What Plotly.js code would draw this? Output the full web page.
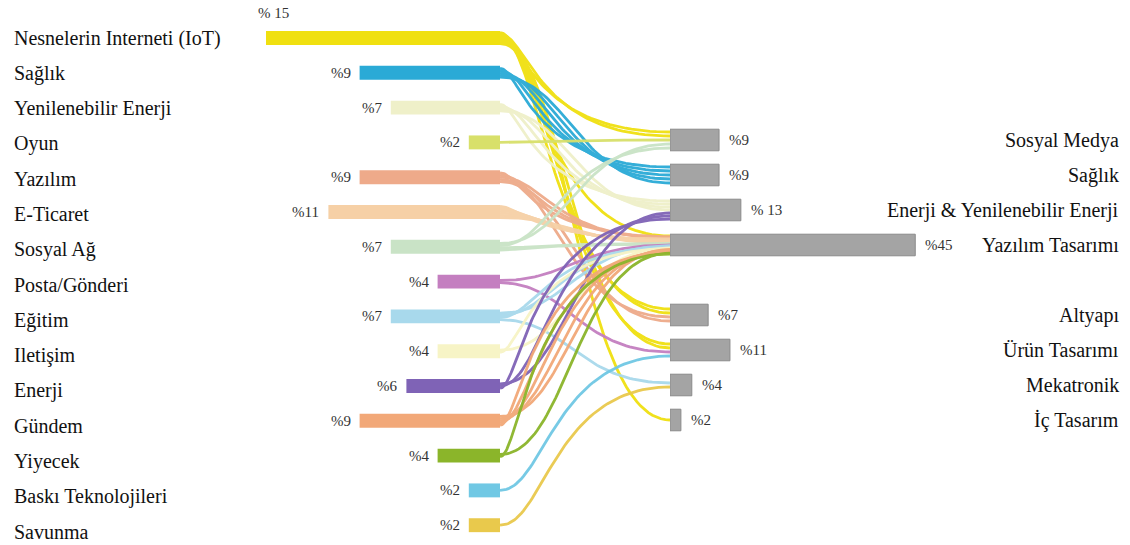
<!DOCTYPE html>
<html><head><meta charset="utf-8">
<script src="https://cdn.plot.ly/plotly-3.0.1.min.js"></script>
</head><body style="margin:0"><div id="chart"></div>
<script>
// ---------- data ----------
const sourceLabels = ["Nesnelerin Interneti (IoT)", "Sağlık", "Yenilenebilir Enerji", "Oyun", "Yazılım", "E-Ticaret", "Sosyal Ağ", "Posta/Gönderi", "Eğitim", "Iletişim", "Enerji", "Gündem", "Yiyecek", "Baskı Teknolojileri", "Savunma"];
const sourceValues = [15, 9, 7, 2, 9, 11, 7, 4, 7, 4, 6, 9, 4, 2, 2];
const sourceValueText = ["% 15", "%9", "%7", "%2", "%9", "%11", "%7", "%4", "%7", "%4", "%6", "%9", "%4", "%2", "%2"];
const sourceColors = ["#f0e010", "#2aaad6", "#eff0c9", "#d8e06a", "#eeaa8a", "#f6d0a6", "#c9e3c6", "#c47fc0", "#a8d9ec", "#f7f4c6", "#7f63b6", "#f2a878", "#8bb52a", "#70c8e4", "#e9c94c"];

const targetLabels = ["Sosyal Medya", "Sağlık", "Enerji & Yenilenebilir Enerji", "Yazılım Tasarımı", "Altyapı", "Ürün Tasarımı", "Mekatronik", "İç Tasarım"];
const targetValues = [9, 9, 13, 45, 7, 11, 4, 2];
const targetValueText = ["%9", "%9", "% 13", "%45", "%7", "%11", "%4", "%2"];

const linkSource = [0, 0, 0, 0, 0, 1, 2, 3, 4, 4, 5, 6, 6, 7, 7, 8, 8, 9, 10, 11, 12, 13, 14];
const linkTarget = [0, 3, 4, 5, 7, 1, 2, 0, 3, 4, 3, 0, 3, 3, 5, 3, 6, 3, 2, 3, 3, 5, 6];
const linkValue  = [4, 2, 4, 3, 2, 9, 7, 2, 6, 3, 11, 3, 4, 2, 2, 5, 2, 4, 6, 9, 4, 2, 2];

// ---------- layout constants ----------
const W = 1130, H = 545;
const LEFT_END_PX = 500, LEFT_PX_PER = 15.6;
const RIGHT_START_PX = 670, RIGHT_PX_PER = 5.45;
const ROW_TOP_PX = 38, ROW_PX = 34.8;
const RIGHT_TOP_PX = 140, RIGHT_ROW_PX = 35;
const LABEL_ROW_STEP = 1.014;
const rowOfPx = px => (px - ROW_TOP_PX) / ROW_PX;
const srcY = sourceLabels.map((_, i) => i);
const tgtSlot = targetLabels.map((_, j) => j + (j >= 4 ? 1 : 0));
const tgtY = tgtSlot.map(s => rowOfPx(RIGHT_TOP_PX + RIGHT_ROW_PX * s));
const SERIF = "Liberation Serif";

// ---------- strands ----------
const strands = [];
linkSource.forEach((s, k) => {
  const n = Math.max(1, Math.round(linkValue[k] * 0.55));
  for (let q = 0; q < n; q++) strands.push({ s, t: linkTarget[k], q });
});
const bySrc = {};
strands.forEach(st => { (bySrc[st.s] = bySrc[st.s] || []).push(st); });
Object.values(bySrc).forEach(arr => {
  arr.sort((a, b) => (a.t - b.t) || (a.q - b.q));
  const n = arr.length, sp = n > 1 ? Math.min(2.2, 11 / (n - 1)) : 0;
  arr.forEach((st, i) => { st.y0off = (i - (n - 1) / 2) * sp; st.k = i; st.n = n; });
});
const byTgt = {};
strands.forEach(st => { (byTgt[st.t] = byTgt[st.t] || []).push(st); });
Object.values(byTgt).forEach(arr => {
  arr.sort((a, b) => (a.s - b.s) || (a.k - b.k));
  const n = arr.length, sp = n > 1 ? Math.min(4, 18 / (n - 1)) : 0;
  arr.forEach((st, i) => { st.y1off = (i - (n - 1) / 2) * sp; });
});

const curveTraces = sourceLabels.map((_, s) => {
  const xs = [], ys = [];
  (bySrc[s] || []).forEach(st => {
    const y0 = srcY[s] + st.y0off / ROW_PX;
    const y1 = tgtY[st.t] + st.y1off / ROW_PX;
    const down = y1 > y0;
    const frac = st.n > 1 ? st.k / (st.n - 1) : 0.5;
    const a = 0.12 + 0.28 * (down ? frac : 1 - frac);
    const b = a + 0.05;
    for (let i = 0; i <= 60; i++) {
      const t = i / 60, u = 1 - t;
      xs.push(3 * u * u * t * a + 3 * u * t * t * b + t * t * t);
      ys.push(u * u * u * y0 + 3 * u * u * t * y0 + 3 * u * t * t * y1 + t * t * t * y1);
    }
    xs.push(null); ys.push(null);
  });
  return { type: "scatter", mode: "lines", x: xs, y: ys, xaxis: "x3", yaxis: "y",
    line: { color: sourceColors[s], width: 2.8 }, opacity: 0.95,
    hoverinfo: "skip", showlegend: false, connectgaps: false };
});

const leftBars = { type: "bar", orientation: "h", x: sourceValues, y: srcY, xaxis: "x", yaxis: "y",
  width: 0.4, marker: { color: sourceColors, line: { width: 0 } }, hoverinfo: "skip", showlegend: false };
const rightBars = { type: "bar", orientation: "h", x: targetValues, y: tgtY, xaxis: "x2", yaxis: "y",
  width: 0.62, marker: { color: "#a4a4a4", line: { color: "#8a8a8a", width: 1 } }, hoverinfo: "skip", showlegend: false };

// ---------- annotations ----------
const ann = [];
sourceLabels.forEach((lab, i) => ann.push({ xref: "paper", yref: "y", x: 12 / W, y: i * LABEL_ROW_STEP,
  xanchor: "left", yanchor: "middle", text: lab, showarrow: false, font: { family: SERIF, size: 20, color: "#111" } }));
sourceValues.forEach((v, i) => {
  const above = i === 0;
  ann.push({ xref: "x", yref: "y", x: v, y: i, xanchor: above ? "left" : "right", yanchor: "middle",
    xshift: above ? -10 : -7, yshift: above ? 25 : 0, text: sourceValueText[i], showarrow: false,
    font: { family: SERIF, size: 15, color: "#333" } });
});
targetLabels.forEach((lab, j) => ann.push({ xref: "paper", yref: "y", x: 1121 / W, y: tgtY[j],
  xanchor: "right", yanchor: "middle", text: lab, showarrow: false, font: { family: SERIF, size: 20, color: "#111" } }));
targetValues.forEach((v, j) => ann.push({ xref: "x2", yref: "y", x: v, y: tgtY[j], xanchor: "left", yanchor: "middle",
  xshift: 8, text: targetValueText[j], showarrow: false, font: { family: SERIF, size: 15, color: "#333" } }));

const layout = {
  width: W, height: H, margin: { l: 0, r: 0, t: 0, b: 0 }, paper_bgcolor: "#fff", plot_bgcolor: "rgba(0,0,0,0)",
  showlegend: false, barmode: "overlay",
  xaxis: { domain: [0, LEFT_END_PX / W], range: [LEFT_END_PX / LEFT_PX_PER, 0], visible: false, anchor: "y" },
  xaxis2: { domain: [RIGHT_START_PX / W, 1], range: [0, (W - RIGHT_START_PX) / RIGHT_PX_PER], visible: false, anchor: "y" },
  xaxis3: { domain: [LEFT_END_PX / W, RIGHT_START_PX / W], range: [0, 1], visible: false, anchor: "y" },
  yaxis: { domain: [0, 1], range: [rowOfPx(H), rowOfPx(0)], visible: false, anchor: "x" },
  annotations: ann
};
Plotly.newPlot("chart", [...curveTraces, leftBars, rightBars], layout, { displayModeBar: false });
</script></body></html>
